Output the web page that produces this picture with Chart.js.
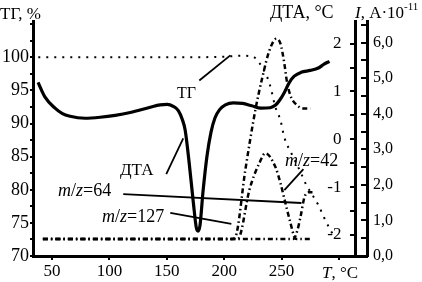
<!DOCTYPE html>
<html>
<head>
<meta charset="UTF-8" />
<title>ТГ, ДТА, масс-спектр</title>
<style>
  body { margin: 0; background: #fff; }
  #wrap { width: 422px; height: 282px; }
</style>
</head>
<body>
<div id="wrap"><canvas id="chart" width="422" height="282"></canvas></div>
<script src="https://cdn.jsdelivr.net/npm/chart.js"></script>
<script>
// axes
const xTicks = [50, 100, 150, 200, 250, 300];
const xLabels = [50, 100, 150, 200, 250];
const tgTicks = [70, 72.5, 75, 77.5, 80, 82.5, 85, 87.5, 90, 92.5, 95, 97.5, 100, 102.5, 105];
const tgLabels = [70, 75, 80, 85, 90, 95, 100];
const dtaTicks = [-2, -1.5, -1, -0.5, 0, 0.5, 1, 1.5, 2];
const dtaLabels = [-2, -1, 0, 1, 2];
const iTicks = [0, 0.5, 1, 1.5, 2, 2.5, 3, 3.5, 4, 4.5, 5, 5.5, 6, 6.5];
const iLabels = [0, 1, 2, 3, 4, 5, 6];
const dtaAxisAt = 314.4; // T where the ДТА axis stands

// ТГ, %
const tgT = [38, 100, 150, 200, 215, 222, 227, 233, 239.4, 244.6, 249, 252.4, 259.4, 266.4, 271.6, 276.9, 282, 287.3, 292.6, 296.9];
const tgV = [100, 100, 100, 100.1, 100.25, 100.2, 99.9, 98.5, 96.1, 92.5, 90.5, 87.9, 85.2, 82.7, 80.7, 79.2, 77.7, 75.7, 73.9, 72.7];

// ДТА, °C
const dtaT = [37.8, 43.9, 52.6, 58.7, 65.7, 78.8, 91.9, 105, 118.1, 135.5, 144.2, 150.3, 155.6, 160, 163.4, 166, 169.5, 173, 175.7, 177.2, 178.9, 181.5, 185, 188.5, 192, 196, 201, 208, 216, 224, 232, 240, 244.5, 248.1, 252.4, 256.8, 261, 267, 275, 282, 287, 291.7];
const dtaV = [1.19, 0.88, 0.65, 0.54, 0.48, 0.44, 0.46, 0.5, 0.56, 0.67, 0.72, 0.73, 0.69, 0.6, 0.42, 0.19, -0.5, -1.3, -1.85, -1.92, -1.8, -1.1, -0.35, 0.15, 0.45, 0.62, 0.72, 0.76, 0.75, 0.7, 0.65, 0.66, 0.71, 0.81, 0.98, 1.19, 1.32, 1.4, 1.44, 1.49, 1.57, 1.63];

// ионный ток, A·10^-11
const mz127T = [42, 200, 207, 209.7, 218.4, 227.1, 233.2, 239.4, 245.5, 249, 252.4, 254.5, 257.7, 263.8, 268.2, 275.1];
const mz127V = [0.48, 0.48, 0.48, 0.53, 2.42, 4.1, 5.02, 5.78, 6.11, 5.97, 5.41, 4.93, 4.51, 4.23, 4.15, 4.15];
const mz42T = [42, 211, 213.2, 221.9, 230.6, 235.9, 244.6, 249, 253.3, 257.7, 261.2, 263, 277];
const mz42V = [0.48, 0.48, 0.53, 1.85, 2.61, 2.89, 2.5, 2.05, 1.49, 0.93, 0.53, 0.48, 0.48];
const mz64T = [42, 260.3, 263.8, 266.4, 269.9, 273.4, 276.9];
const mz64V = [0.48, 0.48, 0.73, 1.09, 1.65, 1.79, 1.79];

// выноски
const leadTG = [[178.3, 96.5], [205.3, 100.3]];
const leadDTA = [[149.5, -0.73], [164.3, 0.02]];
const lead64 = [[112, 1.74], [267.3, 1.49]];
const lead127 = [[153, 1.21], [206.2, 0.9]];
const lead42 = [[269, 2.44], [252.4, 1.85]];

const pts = (xs, ys) => xs.map((x, i) => ({ x: x, y: ys[i] }));
const pairs = arr => arr.map(p => ({ x: p[0], y: p[1] }));

const serif = "'Liberation Serif', 'Times New Roman', serif";
const dashDot = [5, 3, 1.5, 3];

function curve(data, axis, extra) {
  return Object.assign({
    data: data, yAxisID: axis, borderColor: '#000', borderWidth: 2.5,
    pointRadius: 0, fill: false, cubicInterpolationMode: 'monotone'
  }, extra);
}
function leader(data, axis) {
  return { data: pairs(data), yAxisID: axis, borderColor: '#000', borderWidth: 1.8, pointRadius: 0, fill: false, tension: 0 };
}

function drawRuns(ctx, x, y, runs, size) {
  runs.forEach(r => {
    const sz = r.sup ? Math.round(size * 0.65) : size;
    ctx.font = (r.i ? 'italic ' : '') + sz + 'px ' + serif;
    ctx.fillText(r.t, x, r.sup ? y - size * 0.45 : y);
    x += ctx.measureText(r.t).width;
  });
}

const labelsPlugin = {
  id: 'labels',
  afterDraw(chart) {
    const ctx = chart.ctx;
    ctx.save();
    ctx.fillStyle = '#000';

    // ДТА tick labels, left of its axis
    const sy = chart.scales.yDTA;
    const ax = chart.scales.x.getPixelForValue(dtaAxisAt);
    ctx.font = '17px ' + serif;
    ctx.textAlign = 'right';
    ctx.textBaseline = 'middle';
    dtaLabels.forEach(v => ctx.fillText(String(v), ax - 14, sy.getPixelForValue(v)));

    ctx.textBaseline = 'alphabetic';
    ctx.textAlign = 'left';
    drawRuns(ctx, 0, 19, [{ t: 'ТГ, %' }], 17);
    drawRuns(ctx, 270, 18, [{ t: 'ДТА, °C' }], 18);
    drawRuns(ctx, 355, 18, [{ t: 'I', i: true }, { t: ', A·10' }, { t: '-11', sup: true }], 17);
    drawRuns(ctx, 322, 278, [{ t: 'T', i: true }, { t: ', °C' }], 17);
    drawRuns(ctx, 177, 98, [{ t: 'ТГ' }], 16);
    drawRuns(ctx, 120, 175, [{ t: 'ДТА' }], 17);
    drawRuns(ctx, 58, 196, [{ t: 'm', i: true }, { t: '/' }, { t: 'z', i: true }, { t: '=64' }], 18);
    drawRuns(ctx, 102, 222, [{ t: 'm', i: true }, { t: '/' }, { t: 'z', i: true }, { t: '=127' }], 18);
    drawRuns(ctx, 285, 166, [{ t: 'm', i: true }, { t: '/' }, { t: 'z', i: true }, { t: '=42' }], 18);
    ctx.restore();
  }
};

const axisGrid = (tl) => ({ drawOnChartArea: false, drawTicks: true, tickLength: tl, color: '#000', lineWidth: 2 });
const axisBorder = { display: true, color: '#000', width: 3 };

new Chart(document.getElementById('chart'), {
  type: 'line',
  data: {
    datasets: [
      curve(pts(tgT, tgV), 'yTG', { borderWidth: 2, borderDash: [2, 6] }),
      curve(pts(dtaT, dtaV), 'yDTA', { borderWidth: 3.2 }),
      curve(pts(mz127T, mz127V), 'yI', { borderDash: dashDot }),
      curve(pts(mz42T, mz42V), 'yI', { borderDash: dashDot }),
      curve(pts(mz64T, mz64V), 'yI', { borderDash: dashDot }),
      leader(leadTG, 'yTG'),
      leader(leadDTA, 'yDTA'),
      leader(lead64, 'yI'),
      leader(lead127, 'yI'),
      leader(lead42, 'yI')
    ]
  },
  options: {
    responsive: false,
    animation: false,
    layout: { padding: { top: 21, left: 0, right: 0, bottom: 0 } },
    plugins: { legend: { display: false }, tooltip: { enabled: false } },
    scales: {
      x: {
        type: 'linear', min: 33.4, max: 324.4,
        afterBuildTicks: s => { s.ticks = xTicks.map(v => ({ value: v })); },
        afterFit: s => { s.height = 26; },
        grid: axisGrid(4), border: axisBorder,
        ticks: {
          color: '#000', font: { family: serif, size: 17 }, padding: 1,
          maxRotation: 0, autoSkip: false,
          callback: v => xLabels.includes(v) ? String(v) : ''
        }
      },
      yTG: {
        position: 'left', min: 70, max: 105.4,
        afterBuildTicks: s => { s.ticks = tgTicks.map(v => ({ value: v })); },
        afterFit: s => { s.width = 33; },
        grid: axisGrid(3), border: axisBorder,
        ticks: {
          color: '#000', font: { family: serif, size: 18 }, padding: 1, autoSkip: false,
          callback: v => tgLabels.includes(v) ? String(v) : ''
        }
      },
      yDTA: {
        position: { x: dtaAxisAt }, min: -2.44, max: 2.46,
        afterBuildTicks: s => { s.ticks = dtaTicks.map(v => ({ value: v })); },
        grid: axisGrid(4), border: axisBorder,
        ticks: { display: false }
      },
      yI: {
        position: 'right', min: 0, max: 6.59,
        afterBuildTicks: s => { s.ticks = iTicks.map(v => ({ value: v })); },
        afterFit: s => { s.width = 55; },
        grid: axisGrid(-6), border: axisBorder,
        ticks: {
          color: '#000', font: { family: serif, size: 16 }, padding: 12, autoSkip: false,
          callback: v => iLabels.includes(v) ? v.toFixed(1).replace('.', ',') : ''
        }
      }
    }
  },
  plugins: [labelsPlugin]
});
</script>
</body>
</html>
